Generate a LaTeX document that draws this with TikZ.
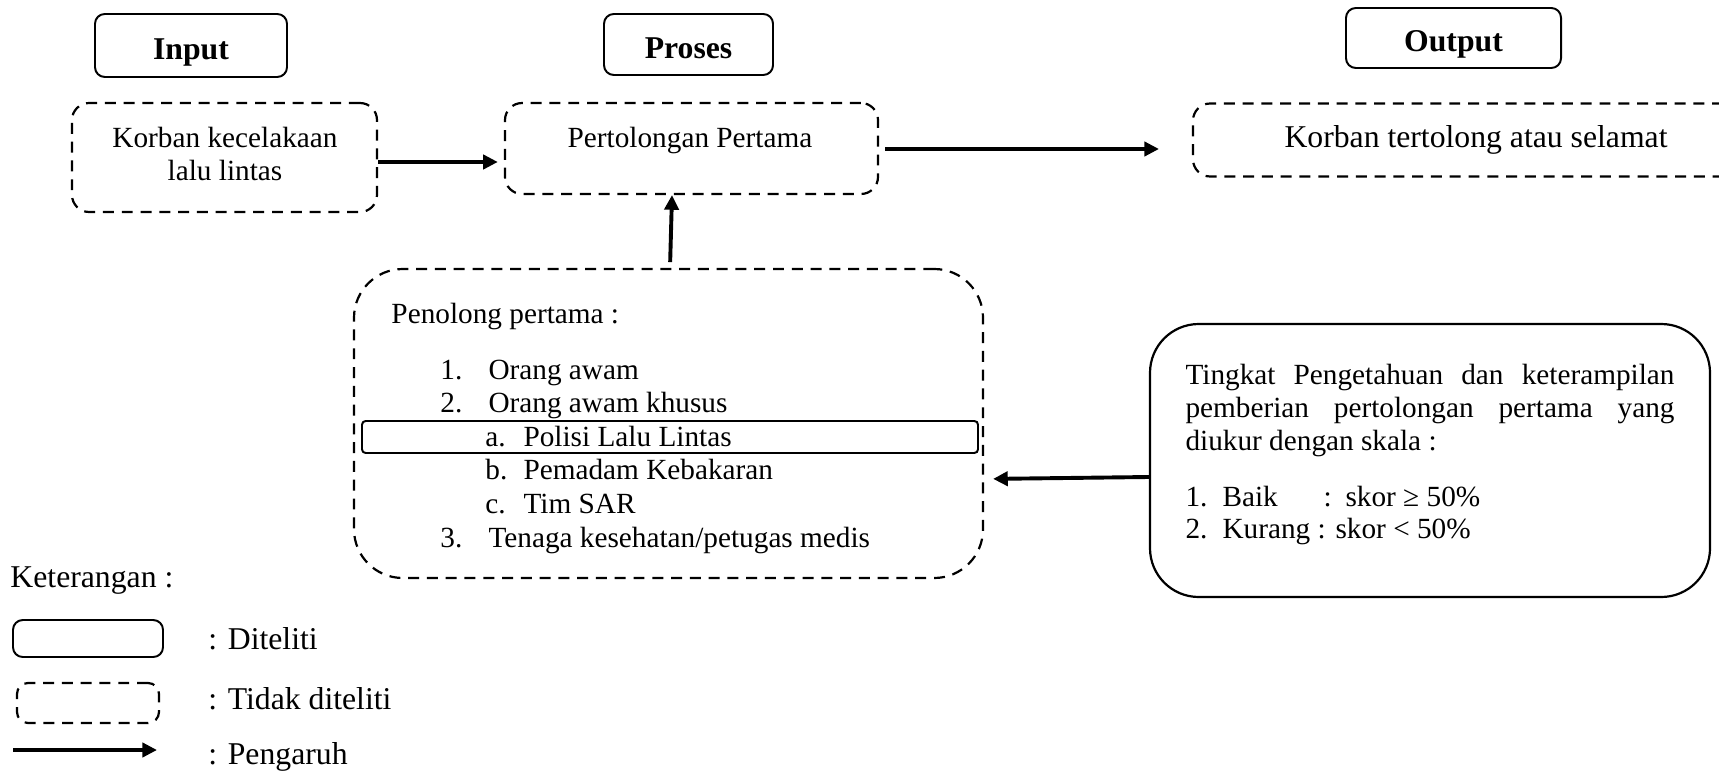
\documentclass[tikz,border=0pt]{standalone}
\usepackage{fontspec}
\setmainfont{Liberation Serif}
\usetikzlibrary{arrows.meta}

\begin{document}
\begin{tikzpicture}[x=0.41pt, y=-0.41pt,
	every node/.style={font=\fontsize{12}{13.8}\selectfont, inner sep=0pt},
	sz/.style 2 args={minimum width=#1*0.41pt, minimum height=#2*0.41pt},
	diteliti/.style={draw, line width=0.8pt, rounded corners=4pt},
	tdkditeliti/.style={draw, line width=0.9pt, dash pattern=on 4.5pt off 3.2pt, rounded corners=7pt},
	pengaruh/.style={-{Triangle[length=6pt,width=5.8pt]}, line width=1.6pt},
	judul/.style={font=\bfseries\fontsize{13}{15}\selectfont, text height=11.3pt, text depth=0pt},
	ket/.style={font=\fontsize{13}{15}\selectfont, anchor=base west}]
	\useasboundingbox (0,0) rectangle (1719,771);
	\clip (0,0) rectangle (1719,771);
	% judul
	\node[diteliti, judul, sz={192}{63}] (input) at (191,45.5) {Input};
	\node[diteliti, judul, sz={169}{61}] (proses) at (688.5,44.5) {Proses};
	\node[diteliti, judul, sz={215}{60}] (output) at (1453.5,38) {Output};
	% baris atas
	\node[tdkditeliti, sz={305}{109}] (korban) at (224.5,157.5) {};
	\node[anchor=base] (korban1) at (225,148) {Korban kecelakaan};
	\node[anchor=base] (korban2) at (225,181) {lalu lintas};
	\node[tdkditeliti, sz={373}{91}] (tolong) at (691.5,148.5) {};
	\node[anchor=base] (tolongtxt) at (690,148) {Pertolongan Pertama};
	\node[tdkditeliti, sz={566}{73}, font=\fontsize{13}{15}\selectfont] (selamat) at (1476,140) {Korban tertolong atau selamat};
	% penolong pertama
	\node[tdkditeliti, rounded corners=20pt, sz={629}{309}] (penolong) at (668.5,423.5) {};
	\node[diteliti, rounded corners=1.5pt, sz={616}{32}] (polisi) at (670,437) {};
	\node[anchor=base west] (penolongjdl) at (391,323) {Penolong pertama :};
	\foreach \nx/\lw/\lbl/\isi [count=\k] in {440/19.7/1./Orang awam, 440/19.7/2./Orang awam khusus,
		485/15.6/a./Polisi Lalu Lintas, 485/15.6/b./Pemadam Kebakaran, 485/15.6/c./Tim SAR,
		440/19.7/3./{Tenaga kesehatan/petugas medis}}
		\node[anchor=base west] (item\k) at ({\nx},{379+33.66*(\k-1)}) {\makebox[\lw pt][l]{\lbl}\isi};
	% tingkat pengetahuan
	\node[diteliti, line width=0.9pt, rounded corners=20pt, sz={560}{273}] (ukur) at (1430,460.5) {};
	\node[anchor=base west] (ukur1) at (1185,384) {\makebox[200.5pt][s]{Tingkat Pengetahuan dan keterampilan}};
	\node[anchor=base west] (ukur2) at (1185,417) {\makebox[200.5pt][s]{pemberian pertolongan pertama yang}};
	\node[anchor=base west] (ukur3) at (1185,450) {diukur dengan skala :};
	\node[anchor=base west] (skala1) at (1185,506) {\makebox[15.2pt][l]{1.}\makebox[41.4pt][l]{Baik}\makebox[9pt][l]{:}skor ≥ 50\%};
	\node[anchor=base west] (skala2) at (1185,538) {\makebox[15.2pt][l]{2.}Kurang : skor < 50\%};
	% pengaruh
	\draw[pengaruh, shorten >=2.5pt] (korban.east |- 0,162) -- (tolong.west |- 0,162);
	\draw[pengaruh, shorten <=2.5pt, shorten >=13.5pt] (tolong.east |- 0,149) -- (selamat.west |- 0,149);
	\draw[pengaruh, shorten <=2.4pt] (penolong.north -| 670,0) -- (tolong.south -| 672,0);
	\draw[pengaruh, shorten >=3.7pt] (ukur.west |- 0,477) -- (penolong.east |- 0,479);
	% keterangan
	\node[ket] (keterangan) at (10,587) {Keterangan :};
	\node[diteliti, sz={150}{37}] (lgditeliti) at (88,638.5) {};
	\node[tdkditeliti, rounded corners=4.5pt, sz={142}{40}] (lgtdk) at (88,703) {};
	\coordinate (lgA) at (13,750);
	\coordinate (lgB) at (157,750);
	\draw[pengaruh] (lgA) -- (lgB);
	\node[ket] (txditeliti) at (208,649) {: Diteliti};
	\node[ket] (txtdk) at (208,709) {: Tidak diteliti};
	\node[ket] (txpengaruh) at (208,764) {: Pengaruh};
\end{tikzpicture}
\end{document}
